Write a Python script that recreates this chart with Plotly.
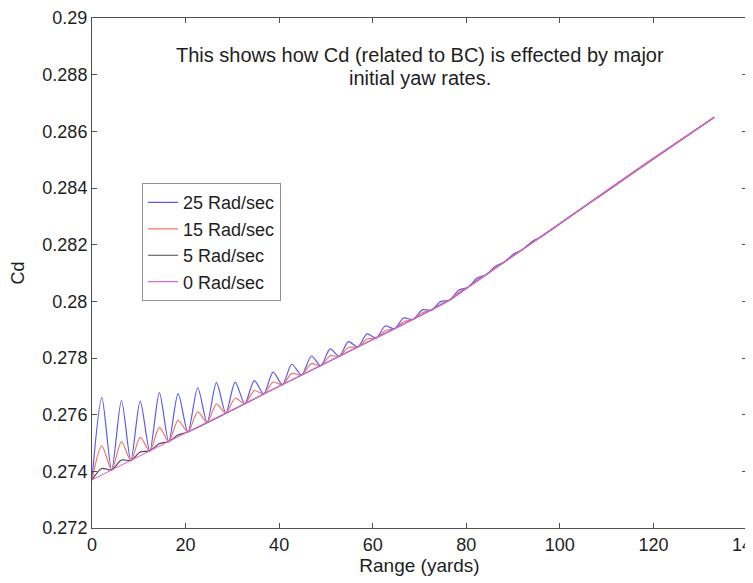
import plotly.graph_objects as go

# ---- data ----
x_ticks = [0, 20, 40, 60, 80, 100, 120, 140]
y_ticks = [0.272, 0.274, 0.276, 0.278, 0.28, 0.282, 0.284, 0.286, 0.288, 0.29]
y_tick_text = ["0.272", "0.274", "0.276", "0.278", "0.28", "0.282", "0.284", "0.286", "0.288", "0.29"]

# 25 Rad/sec (alternating trough / peak points)
x25 = [0, 2.1, 4.2, 6.3, 8.3, 10.3, 12.35, 14.4, 16.4, 18.4, 20.5, 22.6, 24.6, 26.6, 28.6, 30.6,
       32.65, 34.7, 36.7, 38.7, 40.7, 42.7, 44.8, 46.9, 48.9, 50.9, 52.85, 54.8, 56.8, 58.8,
       60.75, 62.7, 64.65, 66.6, 68.6, 70.6, 72.55, 74.5, 76.45, 78.4, 80.35, 82.3, 84.25, 86.2,
       88.15, 90.1, 92.05, 94.0, 96.0, 100, 110, 120, 133]
y25 = [0.2737, 0.2766, 0.27405, 0.2765, 0.27438, 0.27648, 0.27472, 0.27678, 0.27505, 0.27674,
       0.27539, 0.27695, 0.27573, 0.27713, 0.27606, 0.27715, 0.27639, 0.2772, 0.27673, 0.2775,
       0.27706, 0.27778, 0.2774, 0.27807, 0.27773, 0.27832, 0.27806, 0.27858, 0.27839, 0.27885,
       0.27871, 0.27913, 0.27903, 0.27941, 0.27936, 0.2797, 0.27969, 0.27999, 0.28005, 0.2804,
       0.2805, 0.28082, 0.28094, 0.28124, 0.28139, 0.28167, 0.28183, 0.2821, 0.28228, 0.28274,
       0.28388, 0.28502, 0.2865]

# 15 Rad/sec
x15 = [0, 2.1, 4.2, 6.3, 8.3, 10.3, 12.35, 14.4, 16.4, 18.4, 20.5, 22.6, 24.6, 26.6, 28.6, 30.6,
       32.65, 34.7, 36.7, 38.7, 40.7, 42.7, 44.8, 46.9, 48.9, 50.9, 52.85, 54.8, 56.8, 58.8,
       60.75, 62.7, 64.65, 66.6, 68.6, 70.6, 72.55, 74.5, 76.45, 78.4, 80.35, 82.3, 84.25, 86.2,
       88.15, 90.1, 92.05, 100, 110, 120, 133]
y15 = [0.2737, 0.2749, 0.27405, 0.27505, 0.27438, 0.2752, 0.27472, 0.27555, 0.27505, 0.2758,
       0.27539, 0.2761, 0.27573, 0.27637, 0.27606, 0.27658, 0.27639, 0.27685, 0.27673, 0.27715,
       0.27706, 0.27745, 0.2774, 0.2778, 0.27773, 0.27808, 0.27806, 0.27837, 0.27839, 0.27867,
       0.27871, 0.27897, 0.27903, 0.27928, 0.27936, 0.2796, 0.27969, 0.2799, 0.28005, 0.28032,
       0.2805, 0.28076, 0.28094, 0.2812, 0.28139, 0.28163, 0.28183, 0.28274, 0.28388, 0.28502,
       0.2865]

# 5 Rad/sec
x5 = [0, 2.1, 4.2, 6.3, 8.3, 10.3, 12.35, 14.4, 16.4, 18.4, 20.5, 40, 60, 76, 80, 90, 100, 110, 120, 133]
y5 = [0.2737, 0.2741, 0.27405, 0.2744, 0.27438, 0.27468, 0.27472, 0.27498, 0.27505, 0.27528,
      0.27539, 0.2770, 0.27865, 0.2800, 0.28045, 0.2816, 0.28275, 0.2839, 0.28505, 0.2865]

# 0 Rad/sec
x0 = [0, 20, 40, 60, 76, 80, 90, 100, 110, 120, 133]
y0 = [0.2737, 0.27535, 0.2770, 0.27865, 0.2800, 0.28045, 0.2816, 0.28275, 0.2839, 0.28505, 0.2865]

series = [
    ("25 Rad/sec", x25, y25, "#5a5af2"),
    ("15 Rad/sec", x15, y15, "#f07868"),
    ("5 Rad/sec", x5, y5, "#4a4a4a"),
    ("0 Rad/sec", x0, y0, "#e068e0"),
]

title_lines = ["This shows how Cd (related to BC) is effected by major", "initial yaw rates."]

FONT = "Liberation Sans, Arial, sans-serif"
TXT = "#1e1e1e"

fig = go.Figure()
for name, xs, ys, col in series:
    fig.add_trace(go.Scatter(x=xs, y=ys, mode="lines", name=name,
                             line=dict(color=col, width=1.2, shape="spline", smoothing=0.8)))

axis_common = dict(showline=True, linecolor="#505050", linewidth=1, mirror="ticks",
                   ticks="inside", ticklen=5, tickcolor="#505050", showgrid=False, zeroline=False,
                   automargin=False, tickfont=dict(family=FONT, size=18, color=TXT))

fig.update_layout(
    width=753, height=583,
    margin=dict(l=84, r=14, t=10, b=63),
    paper_bgcolor="white", plot_bgcolor="white",
    font=dict(family=FONT, size=18, color=TXT),
    xaxis=dict(range=[0, 140], tickvals=x_ticks, ticklabeloverflow="allow",
               title=dict(text="Range (yards)", font=dict(family=FONT, size=19, color=TXT), standoff=4),
               **axis_common),
    yaxis=dict(range=[0.272, 0.29], tickvals=y_ticks, ticktext=y_tick_text,
               title=dict(text="Cd", font=dict(family=FONT, size=18, color=TXT), standoff=18),
               **axis_common),
    legend=dict(x=0.0763, y=0.676, xanchor="left", yanchor="top",
                bordercolor="#909090", borderwidth=1, bgcolor="white",
                font=dict(family=FONT, size=18, color=TXT),
                tracegroupgap=0, itemwidth=30),
    showlegend=True,
    annotations=[
        dict(text=title_lines[0], xref="paper", yref="paper", x=0.5, y=0.9275,
             xanchor="center", yanchor="middle", showarrow=False,
             font=dict(family=FONT, size=20, color=TXT)),
        dict(text=title_lines[1], xref="paper", yref="paper", x=0.5, y=0.8824,
             xanchor="center", yanchor="middle", showarrow=False,
             font=dict(family=FONT, size=20, color=TXT)),
    ],
)

fig.write_html("out.html")
